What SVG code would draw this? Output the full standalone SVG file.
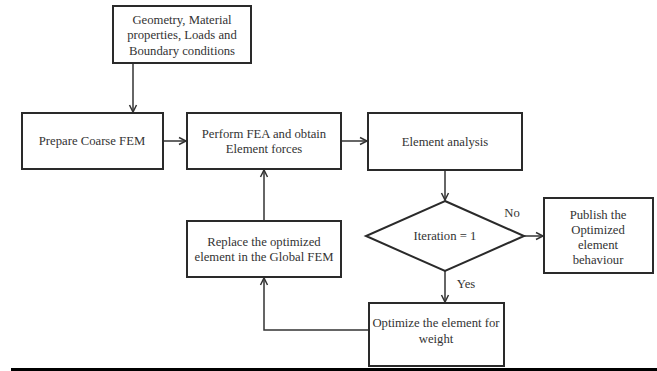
<svg xmlns="http://www.w3.org/2000/svg" width="657" height="371" viewBox="0 0 657 371">
<defs>
<style>
.box{fill:#fff;stroke:#2a2a2a;stroke-width:2}
.t{font-family:"Liberation Serif","Times New Roman",serif;font-size:12.7px;fill:#333;text-anchor:middle}
.c{fill:none;stroke:#333;stroke-width:1.5}
</style>
<marker id="ah" markerWidth="10" markerHeight="10" refX="8" refY="5" orient="auto" markerUnits="userSpaceOnUse">
<path d="M1,1.5 L8,5 L1,8.5" fill="none" stroke="#333" stroke-width="1.5"/>
</marker>
</defs>
<rect width="657" height="371" fill="#fff"/>
<g id="connectors">
<line class="c" x1="133" y1="63" x2="133" y2="112" marker-end="url(#ah)"/>
<line class="c" x1="163" y1="141" x2="186" y2="141" marker-end="url(#ah)"/>
<line class="c" x1="341" y1="141" x2="367" y2="141" marker-end="url(#ah)"/>
<line class="c" x1="445" y1="170" x2="445" y2="200" marker-end="url(#ah)"/>
<line class="c" x1="524" y1="236" x2="543" y2="236" marker-end="url(#ah)"/>
<line class="c" x1="445" y1="271" x2="445" y2="302" marker-end="url(#ah)"/>
<polyline class="c" points="369,330 264,330 264,278" marker-end="url(#ah)"/>
<line class="c" x1="264" y1="221" x2="264" y2="170" marker-end="url(#ah)"/>
<text class="t" x="512" y="217">No</text>
<text class="t" x="466" y="288">Yes</text>
</g>
<g id="input">
<rect class="box" x="113" y="6" width="138" height="57"/>
<text class="t" x="182" y="24">Geometry, Material</text>
<text class="t" x="182" y="39">properties, Loads and</text>
<text class="t" x="182" y="55">Boundary conditions</text>
</g>
<g id="prepare">
<rect class="box" x="22" y="113" width="141" height="56"/>
<text class="t" x="92" y="145">Prepare Coarse FEM</text>
</g>
<g id="perform">
<rect class="box" x="187" y="113" width="154" height="56"/>
<text class="t" x="264" y="138">Perform FEA and obtain</text>
<text class="t" x="264" y="153">Element forces</text>
</g>
<g id="element">
<rect class="box" x="368" y="113" width="154" height="57"/>
<text class="t" x="445" y="146">Element analysis</text>
</g>
<g id="decision">
<polygon class="box" points="445,201 524,236 445,271 366,236"/>
<text class="t" x="445" y="240">Iteration  = 1</text>
</g>
<g id="publish">
<rect class="box" x="544" y="198" width="109" height="75"/>
<text class="t" x="598" y="219">Publish the</text>
<text class="t" x="598" y="234">Optimized</text>
<text class="t" x="598" y="249">element</text>
<text class="t" x="598" y="264">behaviour</text>
</g>
<g id="replace">
<rect class="box" x="187" y="221" width="154" height="56"/>
<text class="t" x="264" y="246">Replace the optimized</text>
<text class="t" x="264" y="261">element in the Global FEM</text>
</g>
<g id="optimize">
<rect class="box" x="369" y="303" width="135" height="63"/>
<text class="t" x="436" y="327">Optimize the element for</text>
<text class="t" x="436" y="343">weight</text>
</g>
<rect x="11" y="368" width="646" height="3" fill="#000"/>
</svg>
